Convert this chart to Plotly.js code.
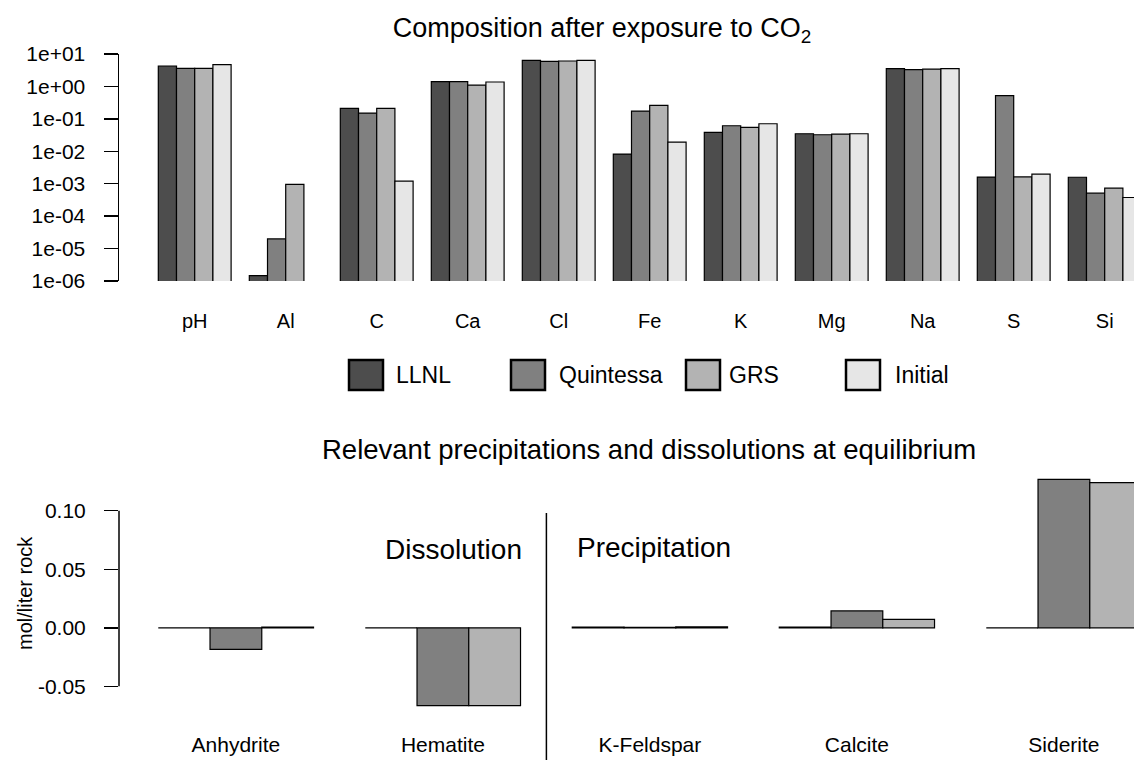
<!DOCTYPE html>
<html>
<head>
<meta charset="utf-8">
<script src="https://cdn.plot.ly/plotly-3.0.1.min.js"></script>
<style>html,body{margin:0;padding:0;background:#fff;}#chart{width:1134px;height:760px;}</style>
</head>
<body>
<div id="chart"></div>
<script>
// ---- data (top: composition, log scale) ----
var elements = ['pH','Al','C','Ca','Cl','Fe','K','Mg','Na','S','Si'];
var llnl      = [4.26, 1.47e-6, 0.21, 1.40, 6.37, 8.2e-3, 0.0382, 0.0347, 3.52, 1.60e-3, 1.58e-3];
var quintessa = [3.61, 1.99e-5, 0.151, 1.40, 5.94, 0.174, 0.0614, 0.0323, 3.28, 0.517, 5.1e-4];
var grs       = [3.61, 9.5e-4, 0.21, 1.10, 6.08, 0.26, 0.0546, 0.0339, 3.44, 1.62e-3, 7.3e-4];
var initial   = [4.68, null, 1.2e-3, 1.37, 6.37, 0.0192, 0.0707, 0.0347, 3.52, 1.97e-3, 3.76e-4];
var logTickVals = [1e-6,1e-5,1e-4,1e-3,1e-2,1e-1,1e0,1e1];
var logTickText = ['1e-06','1e-05','1e-04','1e-03','1e-02','1e-01','1e+00','1e+01'];

// ---- data (bottom: precipitation / dissolution) ----
var minerals   = ['Anhydrite','Hematite','K-Feldspar','Calcite','Siderite'];
var llnl2      = [0, 0, 0.0005, 0.0005, 0];
var quintessa2 = [-0.0184, -0.0665, 0.0004, 0.0144, 0.1268];
var grs2       = [0.0006, -0.0665, 0.0008, 0.0072, 0.124];
var linTickVals = [-0.05, 0, 0.05, 0.10];
var linTickText = ['-0.05','0.00','0.05','0.10'];

var seriesNames  = ['LLNL','Quintessa','GRS','Initial'];
var seriesColors = ['#4d4d4d','#808080','#b3b3b3','#e6e6e6'];

// ---- layout helpers ----
var W = 1134, H = 760, L = 119;
function px(x){ return (x - L) / (W - L); }
function py(y){ return (H - y) / H; }
var FONT = 'Liberation Sans, Arial, Helvetica, sans-serif';
var lineSpec = {color:'#000', width:1.2};

var topSeries = [llnl, quintessa, grs, initial];
var botSeries = [llnl2, quintessa2, grs2];
var traces = [];
topSeries.forEach(function(vals, i){
  traces.push({type:'bar', x:elements, y:vals, name:seriesNames[i], xaxis:'x', yaxis:'y',
    marker:{color:seriesColors[i], line:lineSpec}, showlegend:false, hoverinfo:'x+y+name'});
});
var botWidth = 0.25;
botSeries.forEach(function(vals, i){
  traces.push({type:'bar', x:minerals, y:vals, name:seriesNames[i], xaxis:'x2', yaxis:'y2',
    width:botWidth, offset:(i - botSeries.length / 2) * botWidth,
    marker:{color:seriesColors[i], line:lineSpec}, showlegend:false, hoverinfo:'x+y+name'});
});

// custom legend (large boxes like the original)
var legendBoxes = [[349,383],[511,545],[686,720],[846,880]];
var legendTextX = [394,557,727,893];
var shapes = [], annotations = [];
seriesNames.forEach(function(n, i){
  shapes.push({type:'rect', xref:'paper', yref:'paper',
    x0:px(legendBoxes[i][0]), x1:px(legendBoxes[i][1]), y0:py(390), y1:py(360),
    fillcolor:seriesColors[i], line:{color:'#000', width:2.5}});
  annotations.push({xref:'paper', yref:'paper', x:px(legendTextX[i]), y:py(375),
    xanchor:'left', yanchor:'middle', text:n, showarrow:false,
    font:{family:FONT, size:23, color:'#000'}});
});

// bottom y axis line spanning only the tick range
shapes.push({type:'line', xref:'paper', yref:'y2', x0:0, x1:0,
  y0:Math.min.apply(null, linTickVals), y1:Math.max.apply(null, linTickVals),
  line:{color:'#000', width:1.5}});
// divider between dissolution and precipitation groups
shapes.push({type:'line', xref:'x2', yref:'paper', x0:1.5, x1:1.5, y0:py(513), y1:-0.01,
  line:{color:'#000', width:1.5}});

annotations.push({xref:'paper', yref:'paper', x:px(649), y:py(449), xanchor:'center', yanchor:'middle',
  text:'Relevant precipitations and dissolutions at equilibrium', showarrow:false,
  font:{family:FONT, size:27.5, color:'#000'}});
annotations.push({xref:'paper', yref:'paper', x:px(453), y:py(549), xanchor:'center', yanchor:'middle',
  text:'Dissolution', showarrow:false, font:{family:FONT, size:28, color:'#000'}});
annotations.push({xref:'paper', yref:'paper', x:px(654), y:py(547), xanchor:'center', yanchor:'middle',
  text:'Precipitation', showarrow:false, font:{family:FONT, size:28, color:'#000'}});
annotations.push({xref:'paper', yref:'paper', x:px(25), y:py(593), xanchor:'center', yanchor:'middle',
  textangle:-90, text:'mol/liter rock', showarrow:false, font:{family:FONT, size:20, color:'#000'}});

var layout = {
  width:W, height:H,
  margin:{l:L, r:0, t:0, b:0, pad:0},
  paper_bgcolor:'#fff', plot_bgcolor:'#fff',
  font:{family:FONT, color:'#000'},
  barmode:'group', bargap:0.2, bargroupgap:0,
  showlegend:false,
  title:{text:'Composition after exposure to CO<sub>2</sub>', xref:'paper', x:px(602), xanchor:'center',
    yref:'container', y:py(28), yanchor:'middle', font:{family:FONT, size:27, color:'#000'}},
  xaxis:{domain:[0,1], anchor:'y', type:'category', range:[-0.832, 10.322], showline:false, zeroline:false,
    showgrid:false, ticks:'', ticklabelstandoff:26, tickfont:{family:FONT, size:20, color:'#000'}, fixedrange:true},
  yaxis:{domain:[py(281), py(54)], anchor:'x', type:'log', range:[-6, 1], showline:true, linecolor:'#000', linewidth:1.5,
    showgrid:false, zeroline:false, ticks:'outside', ticklen:14, tickwidth:1.5, tickcolor:'#000',
    tickvals:logTickVals, ticktext:logTickText, ticklabelstandoff:14, tickfont:{family:FONT, size:21, color:'#000'}},
  xaxis2:{domain:[0,1], anchor:'y2', type:'category', range:[-0.5647, 4.3386], showline:false, zeroline:false,
    showgrid:false, ticks:'', ticklabelstandoff:15, tickfont:{family:FONT, size:21, color:'#000'}},
  yaxis2:{domain:[py(715), py(470)], anchor:'x2', range:[-0.0745, 0.1348], showline:false, showgrid:false, zeroline:false,
    ticks:'outside', ticklen:14, tickwidth:1.5, tickcolor:'#000', tickvals:linTickVals, ticktext:linTickText,
    ticklabelstandoff:14, tickfont:{family:FONT, size:21, color:'#000'}},
  shapes:shapes,
  annotations:annotations
};
Plotly.newPlot('chart', traces, layout, {staticPlot:true, displayModeBar:false});
</script>
</body>
</html>
